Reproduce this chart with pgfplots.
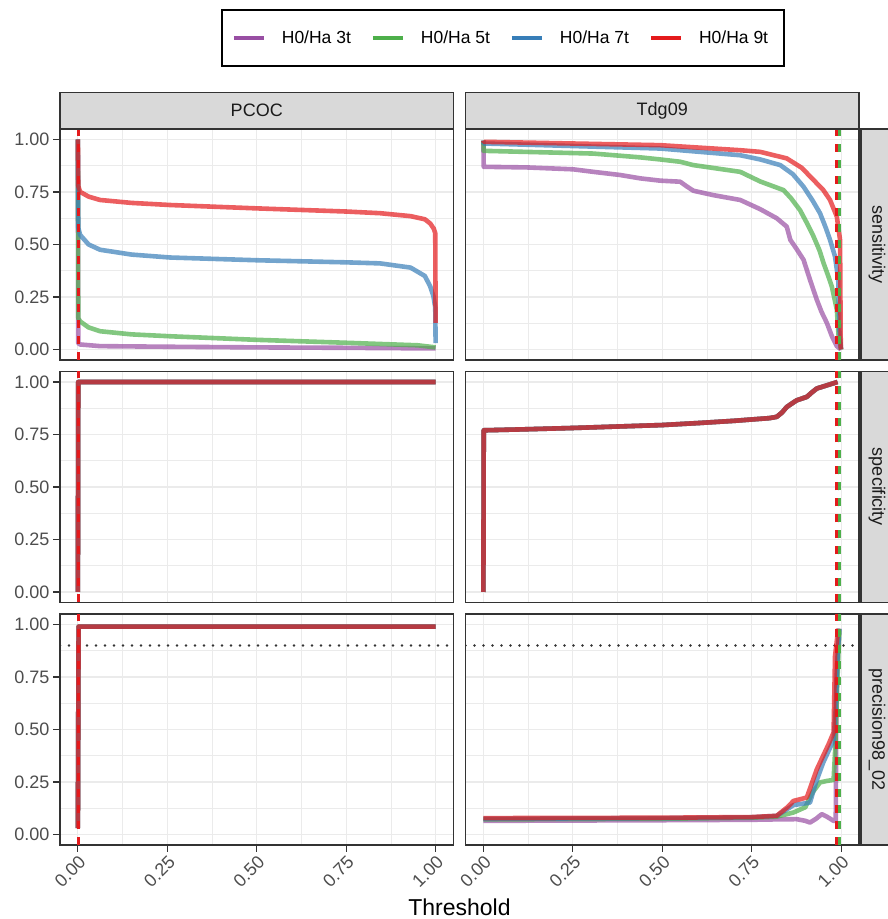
\documentclass[border=0pt]{standalone}
\usepackage{fontspec}
\setmainfont{Liberation Sans}
\usepackage{pgfplots}
\pgfplotsset{compat=1.18}
\definecolor{c3}{HTML}{984EA3}
\definecolor{c5}{HTML}{4DAF4A}
\definecolor{c7}{HTML}{377EB8}
\definecolor{c9}{HTML}{E41A1C}
\definecolor{grey20}{HTML}{333333}
\definecolor{grey30}{HTML}{4D4D4D}
\definecolor{grey10}{HTML}{1A1A1A}
\definecolor{grey85}{HTML}{D9D9D9}
\definecolor{gridc}{HTML}{EBEBEB}
\pgfplotsset{
  panel/.style={
    scale only axis, width=393.5pt, height=231pt,
    xmin=-0.05, xmax=1.05, ymin=-0.05, ymax=1.05,
    xtick={0,0.25,0.5,0.75,1}, ytick={0,0.25,0.5,0.75,1},
    minor xtick={0.125,0.375,0.625,0.875}, minor ytick={0.125,0.375,0.625,0.875},
    grid=both,
    major grid style={color=gridc, line width=1.1pt},
    minor grid style={color=gridc, line width=0.55pt},
    minor tick length=0pt, major tick length=6.5pt,
    tick align=outside, xtick pos=left, ytick pos=left,
    axis line style={draw=grey20, line width=1.4pt},
    major tick style={draw=grey20, line width=1.1pt},
    xticklabels={}, yticklabels={},
    xmajorticks=false, ymajorticks=false,
    tick label style={font=\fontsize{18}{18}\selectfont, text=grey30},
    xticklabel style={rotate=45, anchor=north east, inner sep=2pt},
    yticklabel style={anchor=east, inner sep=4pt},
  },
  lcol/.style={ymajorticks=true, yticklabels={0.00,0.25,0.50,0.75,1.00}},
  brow/.style={xmajorticks=true, xticklabels={0.00,0.25,0.50,0.75,1.00}},
  ser/.style={line width=4.6pt, draw opacity=0.7, line join=round, forget plot, mark=none},
  vl/.style={line width=2.6pt, dash pattern=on 8pt off 8pt, forget plot, mark=none},
}
\newcommand{\vlinesL}{%
  \addplot[vl, c3] coordinates {(0.001,-0.05) (0.001,1.05)};
  \addplot[vl, c5] coordinates {(0.001,-0.05) (0.001,1.05)};
  \addplot[vl, c7] coordinates {(0.001,-0.05) (0.001,1.05)};
  \addplot[vl, c9] coordinates {(0.001,-0.05) (0.001,1.05)};
}
\newcommand{\vlinesR}{%
  \addplot[vl, c3] coordinates {(0.995,-0.05) (0.995,1.05)};
  \addplot[vl, c7] coordinates {(0.996,-0.05) (0.996,1.05)};
  \addplot[vl, c5] coordinates {(0.995,-0.05) (0.995,1.05)};
  \addplot[vl, c9] coordinates {(0.987,-0.05) (0.987,1.05)};
}
\newcommand{\hdot}{%
  \addplot[forget plot, mark=none, color=grey20, line width=2.6pt, line cap=round, dash pattern=on 0pt off 9pt] coordinates {(-0.05,0.9) (1.05,0.9)};
}
\begin{document}
\begin{tikzpicture}
\useasboundingbox (0pt,0pt) rectangle (888pt,919pt);
% ---------- top-left: PCOC sensitivity
\begin{axis}[panel, lcol, at={(60pt,559pt)}, anchor=south west,
  legend style={at={(1.1258,1.3939)}, anchor=center, draw=black, line width=1.5pt, fill=white,
    font=\fontsize{17.5}{17.5}\selectfont, legend columns=4, inner xsep=10pt, inner ysep=20pt,
    /tikz/every even column/.append style={column sep=14pt},
    /tikz/every odd column/.append style={column sep=10pt},
    nodes={inner xsep=6pt, inner ysep=1pt}, cells={anchor=west}},
  legend image code/.code={\draw[#1, line width=4pt] (0pt,0pt) -- (30pt,0pt);}]
\addlegendimage{c3}\addlegendentry{H0/Ha 3t}
\addlegendimage{c5}\addlegendentry{H0/Ha 5t}
\addlegendimage{c7}\addlegendentry{H0/Ha 7t}
\addlegendimage{c9}\addlegendentry{H0/Ha 9t}
\addplot[ser, c3] coordinates {(0,1) (0.001,0.03) (0.006,0.024) (0.062,0.016) (0.258,0.013) (0.5,0.01) (0.75,0.008) (1,0.005)};
\addplot[ser, c5] coordinates {(0,1) (0.001,0.15) (0.006,0.134) (0.03,0.105) (0.062,0.087) (0.15,0.072) (0.258,0.063) (0.5,0.046) (0.75,0.032) (0.95,0.02) (1,0.01)};
\addplot[ser, c7] coordinates {(0,1) (0.001,0.58) (0.006,0.546) (0.03,0.50) (0.062,0.475) (0.15,0.452) (0.258,0.438) (0.5,0.425) (0.75,0.415) (0.845,0.41) (0.93,0.39) (0.97,0.35) (0.985,0.30) (0.994,0.253) (0.999,0.2) (1,0.03)};
\addplot[ser, c9] coordinates {(0,1) (0.001,0.78) (0.006,0.751) (0.03,0.728) (0.062,0.712) (0.15,0.698) (0.258,0.688) (0.5,0.672) (0.75,0.657) (0.845,0.649) (0.93,0.635) (0.97,0.62) (0.985,0.60) (0.995,0.575) (0.999,0.554) (1,0.127)};
\vlinesL
\end{axis}
% ---------- top-right: Tdg09 sensitivity
\begin{axis}[panel, at={(465.5pt,559pt)}, anchor=south west]
\addplot[ser, c3] coordinates {(0,0.995) (0.001,0.870) (0.121,0.867) (0.251,0.858) (0.307,0.846) (0.382,0.831) (0.438,0.815) (0.494,0.804) (0.550,0.799) (0.569,0.776) (0.587,0.756) (0.643,0.735) (0.718,0.712) (0.774,0.668) (0.82,0.625) (0.848,0.585) (0.858,0.522) (0.875,0.48) (0.895,0.427) (0.913,0.332) (0.932,0.237) (0.945,0.18) (0.960,0.127) (0.975,0.06) (0.988,0.016) (1,0)};
\addplot[ser, c5] coordinates {(0,0.995) (0.001,0.946) (0.307,0.933) (0.438,0.915) (0.494,0.905) (0.550,0.894) (0.587,0.878) (0.718,0.846) (0.774,0.80) (0.839,0.759) (0.86,0.72) (0.885,0.664) (0.905,0.60) (0.923,0.538) (0.94,0.47) (0.951,0.411) (0.964,0.35) (0.974,0.300) (0.988,0.190) (0.993,0.063) (1,0)};
\addplot[ser, c7] coordinates {(0,0.995) (0.001,0.981) (0.494,0.957) (0.718,0.925) (0.774,0.905) (0.830,0.878) (0.865,0.835) (0.895,0.775) (0.92,0.71) (0.941,0.649) (0.957,0.58) (0.969,0.522) (0.983,0.443) (0.992,0.332) (0.995,0.095) (1,0)};
\addplot[ser, c9] coordinates {(0,0.995) (0.001,0.989) (0.494,0.973) (0.718,0.949) (0.774,0.941) (0.848,0.910) (0.89,0.865) (0.923,0.807) (0.95,0.76) (0.969,0.712) (0.988,0.633) (0.997,0.522) (0.999,0.01) (1,0)};
\vlinesR
\end{axis}
% ---------- middle-left: PCOC specificity
\begin{axis}[panel, lcol, at={(60pt,316.5pt)}, anchor=south west]
\addplot[ser, c3] coordinates {(0,0) (0.001,1) (1,1)};
\addplot[ser, c5] coordinates {(0,0) (0.001,1) (1,1)};
\addplot[ser, c7] coordinates {(0,0) (0.001,1) (1,1)};
\addplot[ser, c9] coordinates {(0,0) (0.001,1) (1,1)};
\vlinesL
\end{axis}
% ---------- middle-right: Tdg09 specificity
\begin{axis}[panel, at={(465.5pt,316.5pt)}, anchor=south west]
\addplot[ser, c3] coordinates {(0,0) (0.001,0.77) (0.1,0.774) (0.25,0.781) (0.5,0.795) (0.606,0.805) (0.7,0.815) (0.8,0.828) (0.82,0.834) (0.835,0.855) (0.848,0.881) (0.86,0.895) (0.876,0.913) (0.904,0.929) (0.918,0.95) (0.932,0.969) (0.96,0.984) (0.99,1.0)};
\addplot[ser, c5] coordinates {(0,0) (0.001,0.77) (0.1,0.774) (0.25,0.781) (0.5,0.795) (0.606,0.805) (0.7,0.815) (0.8,0.828) (0.82,0.834) (0.835,0.855) (0.848,0.881) (0.86,0.895) (0.876,0.913) (0.904,0.929) (0.918,0.95) (0.932,0.969) (0.96,0.984) (0.99,1.0)};
\addplot[ser, c7] coordinates {(0,0) (0.001,0.77) (0.1,0.774) (0.25,0.781) (0.5,0.795) (0.606,0.805) (0.7,0.815) (0.8,0.828) (0.82,0.834) (0.835,0.855) (0.848,0.881) (0.86,0.895) (0.876,0.913) (0.904,0.929) (0.918,0.95) (0.932,0.969) (0.96,0.984) (0.99,1.0)};
\addplot[ser, c9] coordinates {(0,0) (0.001,0.77) (0.1,0.774) (0.25,0.781) (0.5,0.795) (0.606,0.805) (0.7,0.815) (0.8,0.828) (0.82,0.834) (0.835,0.855) (0.848,0.881) (0.86,0.895) (0.876,0.913) (0.904,0.929) (0.918,0.95) (0.932,0.969) (0.96,0.984) (0.99,1.0)};
\vlinesR
\end{axis}
% ---------- bottom-left: PCOC precision
\begin{axis}[panel, lcol, brow, at={(60pt,74pt)}, anchor=south west]
\hdot
\addplot[ser, c3] coordinates {(0,0.03) (0.002,0.99) (1,0.99)};
\addplot[ser, c5] coordinates {(0,0.03) (0.002,0.99) (1,0.99)};
\addplot[ser, c7] coordinates {(0,0.03) (0.002,0.99) (1,0.99)};
\addplot[ser, c9] coordinates {(0,0.03) (0.002,0.99) (1,0.99)};
\vlinesL
\end{axis}
% ---------- bottom-right: Tdg09 precision
\begin{axis}[panel, brow, at={(465.5pt,74pt)}, anchor=south west]
\hdot
\addplot[ser, c3] coordinates {(0,0.065) (0.5,0.068) (0.75,0.07) (0.82,0.072) (0.876,0.073) (0.9,0.065) (0.913,0.057) (0.93,0.075) (0.946,0.097) (0.96,0.085) (0.979,0.065) (0.985,0.065) (0.987,0.74) (0.995,0.98)};
\addplot[ser, c5] coordinates {(0,0.072) (0.5,0.075) (0.75,0.08) (0.82,0.085) (0.867,0.105) (0.9,0.13) (0.92,0.2) (0.941,0.248) (0.96,0.255) (0.979,0.26) (0.983,0.39) (0.99,0.75) (0.995,0.97)};
\addplot[ser, c7] coordinates {(0,0.075) (0.5,0.078) (0.75,0.082) (0.82,0.089) (0.867,0.14) (0.913,0.152) (0.93,0.25) (0.95,0.343) (0.979,0.45) (0.985,0.6) (0.99,0.85) (0.995,0.98)};
\addplot[ser, c9] coordinates {(0,0.078) (0.5,0.08) (0.75,0.083) (0.82,0.089) (0.85,0.13) (0.867,0.16) (0.904,0.176) (0.932,0.31) (0.965,0.43) (0.979,0.486) (0.983,0.85) (0.992,0.98)};
\vlinesR
\end{axis}
% ---------- strips
\draw[fill=grey85, draw=grey20, line width=1.4pt] (60pt,826.7pt) rectangle (453.5pt,790pt);
\draw[fill=grey85, draw=grey20, line width=1.4pt] (465.5pt,826.7pt) rectangle (859pt,790pt);
\node[font=\fontsize{18}{18}\selectfont, text=grey10] at (256.75pt,808.35pt) {PCOC};
\node[font=\fontsize{18}{18}\selectfont, text=grey10] at (662.25pt,808.35pt) {Tdg09};
\draw[fill=grey85, draw=grey20, line width=1.4pt] (861pt,559pt) rectangle (898pt,790pt);
\draw[fill=grey85, draw=grey20, line width=1.4pt] (861pt,316.5pt) rectangle (898pt,547.5pt);
\draw[fill=grey85, draw=grey20, line width=1.4pt] (861pt,74pt) rectangle (898pt,305pt);
\node[font=\fontsize{18}{18}\selectfont, text=grey10, rotate=-90] at (877pt,674.5pt) {sensitivity};
\node[font=\fontsize{18}{18}\selectfont, text=grey10, rotate=-90] at (877pt,432pt) {specificity};
\node[font=\fontsize{18}{18}\selectfont, text=grey10, rotate=-90] at (877pt,189.5pt) {precision98\_02};
\node[font=\fontsize{23}{23}\selectfont, text=black] at (459.5pt,12pt) {Threshold};
\end{tikzpicture}
\end{document}
